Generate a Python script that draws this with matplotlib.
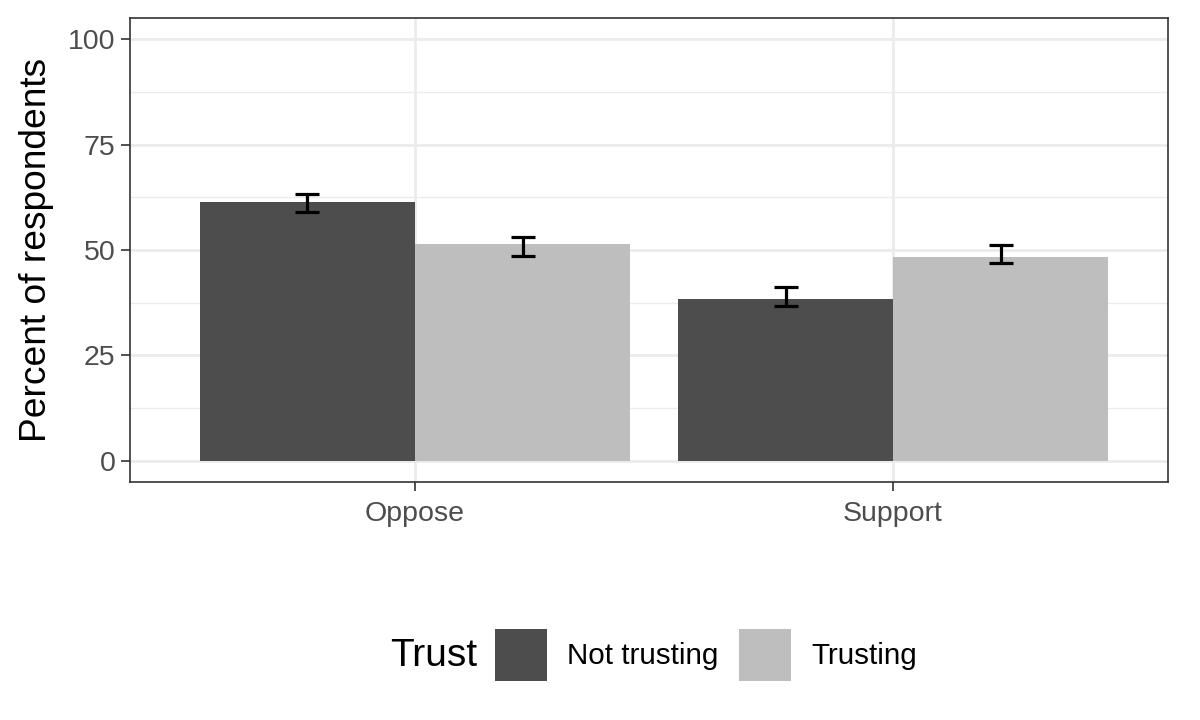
import matplotlib
matplotlib.use("Agg")
import matplotlib.pyplot as plt
from matplotlib.patches import Patch
import numpy as np

categories = ["Oppose", "Support"]
groups = ["Not trusting", "Trusting"]
values = {"Not trusting": [61.4, 38.5], "Trusting": [51.4, 48.3]}
err_low = {"Not trusting": [58.9, 36.7], "Trusting": [48.6, 46.8]}
err_high = {"Not trusting": [63.3, 41.2], "Trusting": [53.2, 51.3]}
colors = {"Not trusting": "#4D4D4D", "Trusting": "#BEBEBE"}
yticks = [0, 25, 50, 75, 100]

plt.rcParams['font.family'] = ['Liberation Sans', 'DejaVu Sans']

fig = plt.figure(figsize=(12, 7.2), dpi=100)
ax = fig.add_axes([130/1200, 1-482/720, (1168-130)/1200, (482-18)/720])

x = np.arange(1, len(categories)+1)
w = 0.45
for i, g in enumerate(groups):
    pos = x + (i - 0.5) * w
    vals = np.array(values[g])
    ax.bar(pos, vals, width=w, color=colors[g], zorder=2, linewidth=0)
    lo = vals - np.array(err_low[g])
    hi = np.array(err_high[g]) - vals
    ax.errorbar(pos, vals, yerr=[lo, hi], fmt='none', ecolor='black',
                elinewidth=2.3, capsize=8.6, capthick=2.3, zorder=3)

ax.set_xlim(0.404, 2.575)
ax.set_ylim(-5, 105)
ax.set_yticks(yticks)
ax.set_yticks([12.5, 37.5, 62.5, 87.5], minor=True)
ax.set_xticks(x)
ax.set_xticklabels(categories)
ax.grid(which='major', color='#EBEBEB', linewidth=2.0, zorder=0)
ax.grid(which='minor', axis='y', color='#EBEBEB', linewidth=1.0, zorder=0)
ax.set_axisbelow(True)
ax.tick_params(axis='both', which='major', length=6.5, width=1.2, color='#333333',
               labelsize=20.5, labelcolor='#4D4D4D', pad=4)
ax.tick_params(axis='x', which='major', pad=7)
ax.tick_params(axis='both', which='minor', length=0)
for s in ax.spines.values():
    s.set_color('#333333')
    s.set_linewidth(1.2)
ax.set_ylabel("Percent of respondents", fontsize=26.7, color='black', labelpad=10)

handles = [Patch(facecolor=colors[g], edgecolor='none') for g in groups]
leg = fig.legend(handles, groups, loc='center left', bbox_to_anchor=(495/1200, 1-655/720),
                 ncol=2, frameon=False, fontsize=21.3, handlelength=1.75, handleheight=2.3,
                 handletextpad=0.7, columnspacing=0.68, borderpad=0, borderaxespad=0)
fig.text(390/1200, 1-656/720, "Trust", fontsize=28, va='center', ha='left')

fig.savefig("out.png", dpi=100)
